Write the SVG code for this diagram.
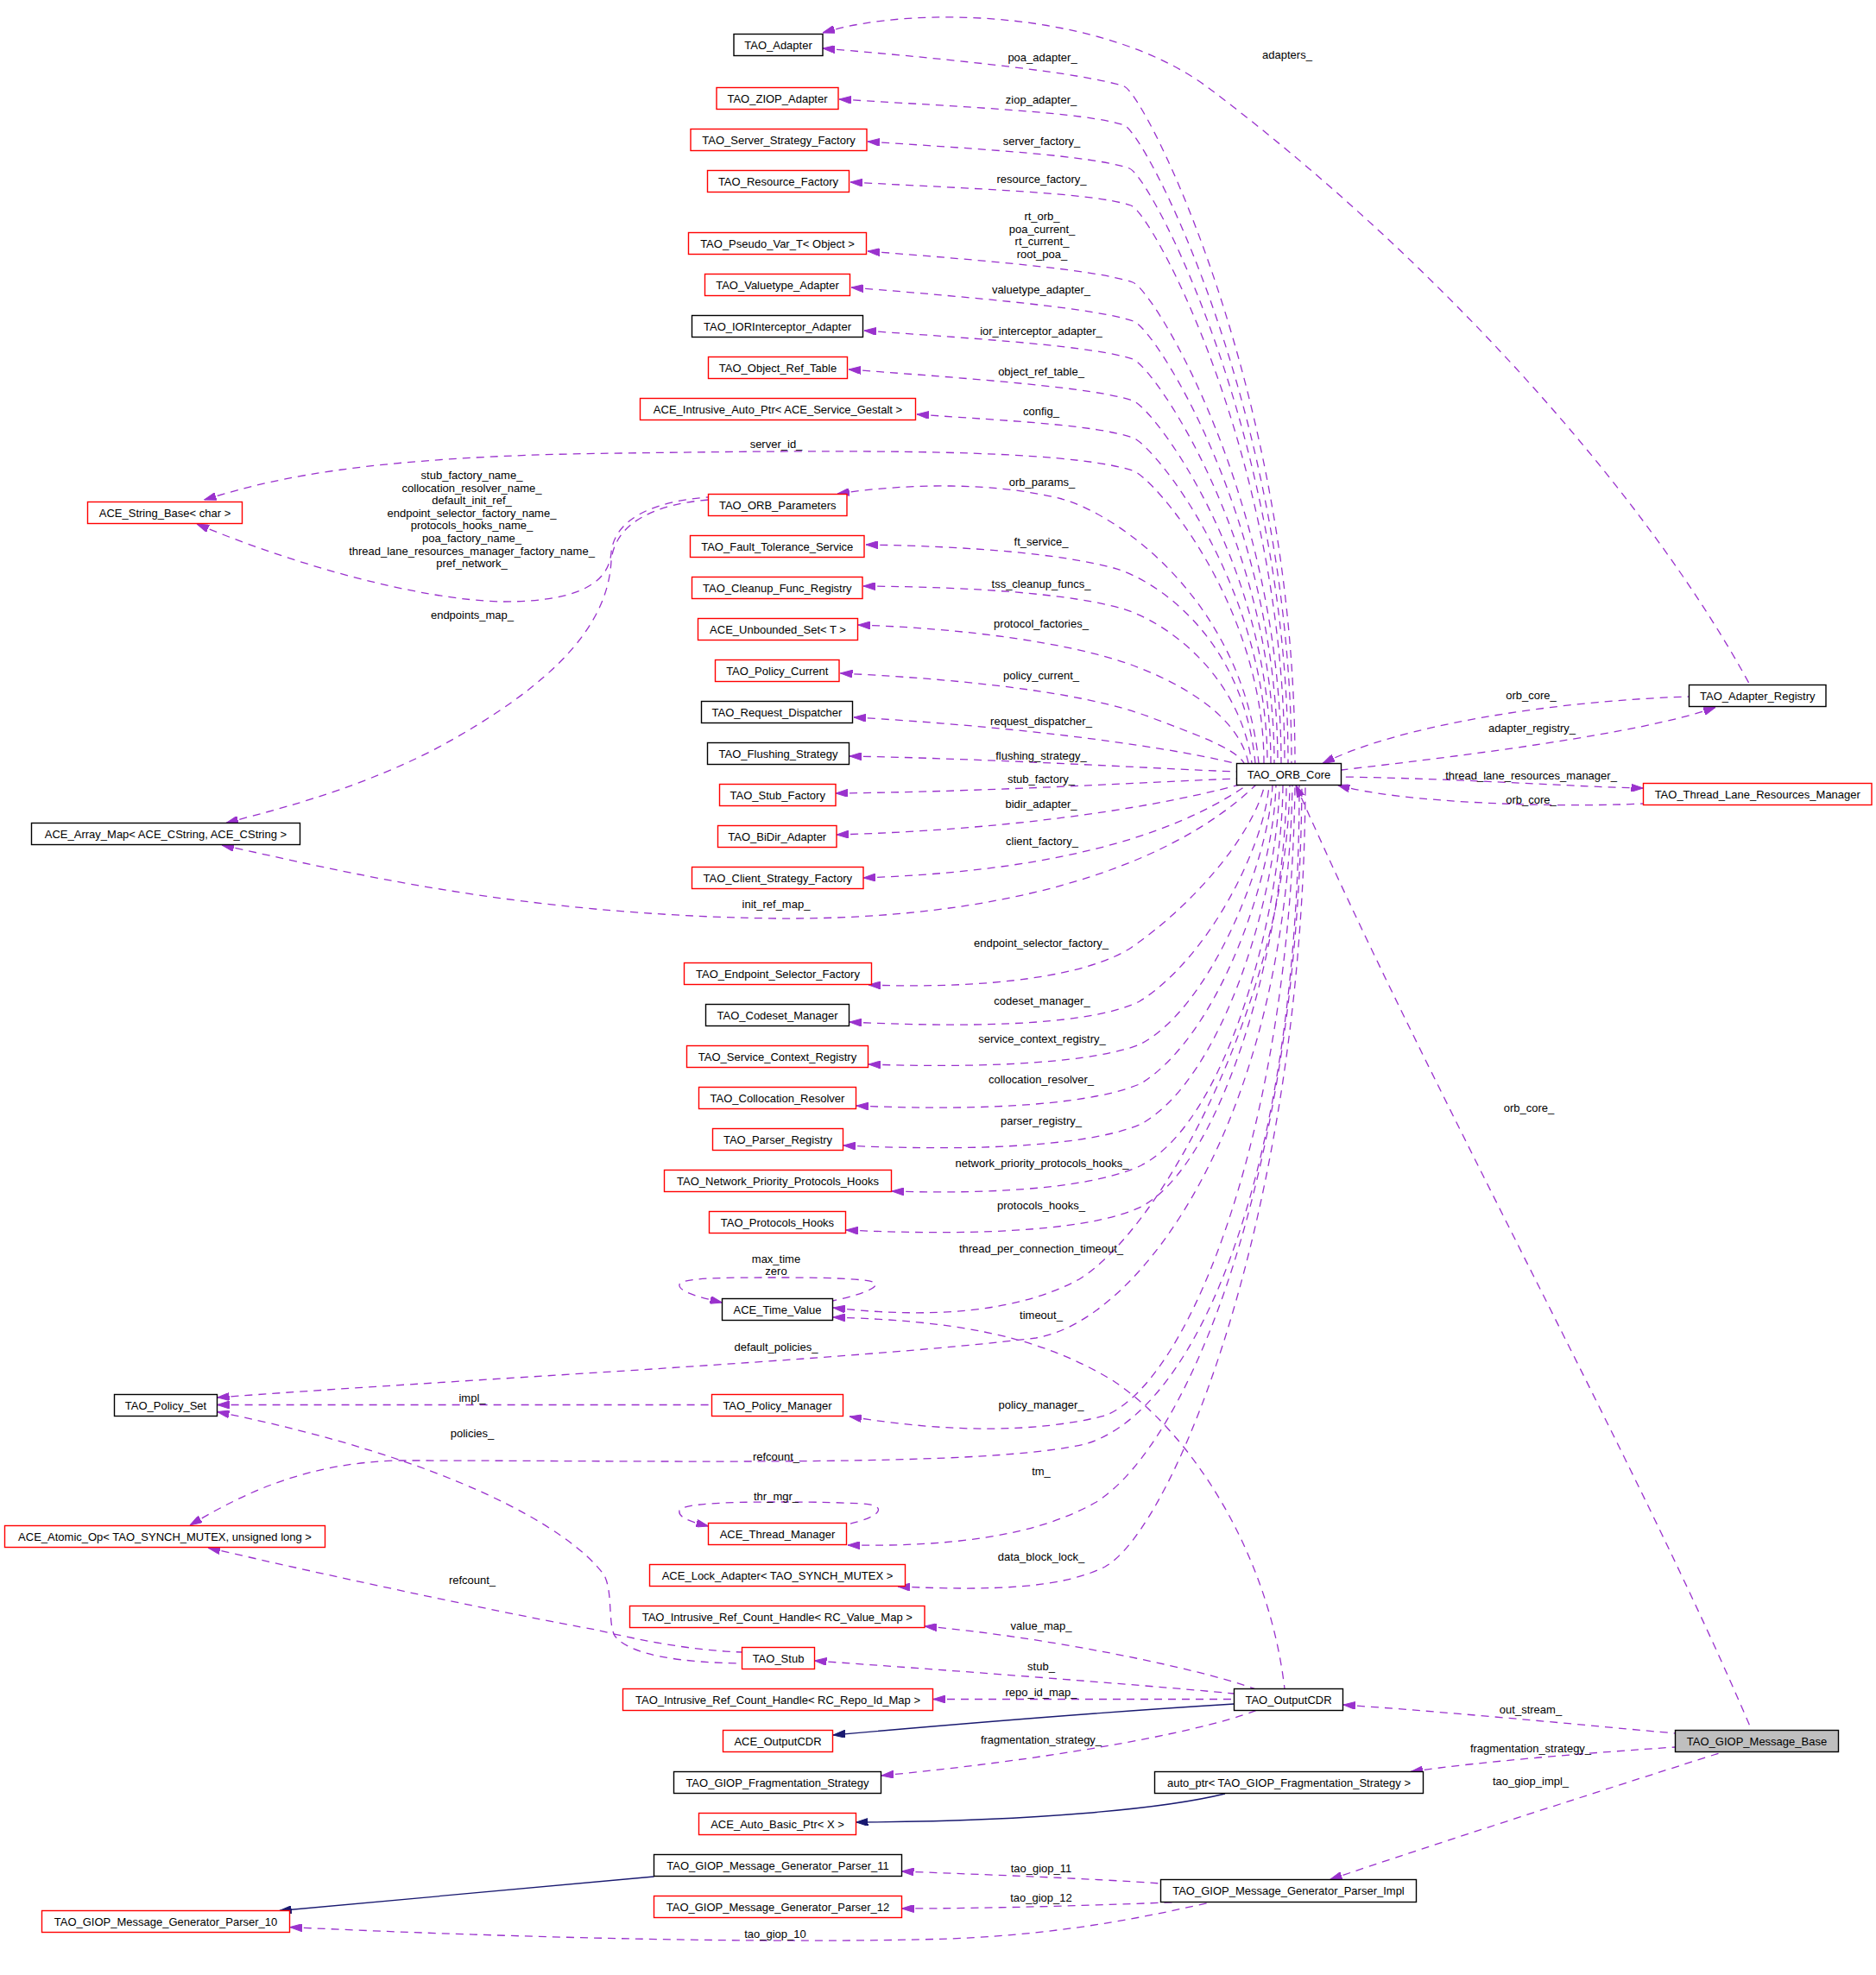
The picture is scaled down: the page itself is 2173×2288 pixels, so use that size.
<svg xmlns="http://www.w3.org/2000/svg" width="2173" height="2288" viewBox="0 0 2173 2288">
<defs>
<marker id="ap" markerUnits="userSpaceOnUse" markerWidth="14" markerHeight="9" refX="14" refY="4.5" orient="auto-start-reverse"><path d="M0,0 L14,4.5 L0,9 Z" fill="#9a32cd" stroke="#9a32cd" stroke-width="1"/></marker>
<marker id="ab" markerUnits="userSpaceOnUse" markerWidth="14" markerHeight="9" refX="14" refY="4.5" orient="auto-start-reverse"><path d="M0,0 L14,4.5 L0,9 Z" fill="#191970" stroke="#191970" stroke-width="1"/></marker>
<style>
text{font-family:"Liberation Sans",Arial,Helvetica,sans-serif;font-size:13px;fill:#000}
.n rect{fill:#fff;stroke:#000;stroke-width:1.4}
.n.r rect{stroke:#ff0000}
.n.g rect{fill:#bfbfbf}
.n text{text-anchor:middle}
.lb text{text-anchor:middle}
.e{fill:none;stroke:#9a32cd;stroke-width:1.3;stroke-dasharray:9,7;marker-start:url(#ap)}
.i{fill:none;stroke:#191970;stroke-width:1.3;marker-start:url(#ab)}
</style>
</defs>
<rect width="2173" height="2288" fill="#fff"/>
<g id="edges">
<path class="e" d="M953,38 C1060,5 1280,12 1400,102 C1650,290 1900,560 2027,793.5"/>
<path class="e" d="M953,56 C1110,69 1257,85 1302,100 C1326,108 1500,453 1500,884"/>
<path class="e" d="M972,115 C1120,124 1257,130 1302,145 C1326,153 1496,478 1496,884"/>
<path class="e" d="M1005,164 C1141,173 1263,180 1308,195 C1332,203 1492,505 1492,884"/>
<path class="e" d="M985,211 C1131,219 1265,223 1310,238 C1334,246 1488,529 1488,884"/>
<path class="e" d="M1005,291 C1143,302 1267,312 1312,327 C1336,335 1484,578 1484,884"/>
<path class="e" d="M986,333 C1133,345 1268,357 1313,372 C1337,380 1480,602 1480,884"/>
<path class="e" d="M1001,383 C1141,393 1267,401 1312,416 C1336,424 1476,627 1476,884"/>
<path class="e" d="M983,428 C1131,439 1267,449 1312,464 C1336,472 1472,653 1472,884"/>
<path class="e" d="M1062,480 C1174,488 1267,492 1312,507 C1336,515 1468,677 1468,884"/>
<path class="e" d="M236.5,579 C300,560 400,528 720,525 C1000,521 1230,520 1312,545 C1336,553 1464,700 1464,884"/>
<path class="e" d="M970,572 C1050,560 1150,558 1230,578 C1300,598 1440,700 1458,884"/>
<path class="e" d="M1003,631 C1130,633 1230,642 1290,658 C1340,672 1440,740 1454,884"/>
<path class="e" d="M1000,679 C1130,680 1240,688 1300,705 C1350,720 1435,780 1450,884"/>
<path class="e" d="M994,724 C1120,728 1240,745 1310,770 C1370,792 1435,830 1446,884"/>
<path class="e" d="M973.5,780 C1100,786 1250,800 1330,830 C1380,849 1430,866 1441,884"/>
<path class="e" d="M989,831 C1150,840 1330,860 1434,885"/>
<path class="e" d="M984,876 C1150,879 1330,890 1433,894"/>
<path class="e" d="M968,919 C1150,917 1330,906 1433,902"/>
<path class="e" d="M969,967 C1150,962 1320,940 1436,909"/>
<path class="e" d="M1000,1017 C1200,1010 1350,975 1445,909"/>
<path class="e" d="M257,979 C400,1010 600,1060 900,1064 C1150,1066 1350,1010 1455,909"/>
<path class="e" d="M1006,1141 C1150,1146 1260,1130 1310,1098 C1380,1050 1450,970 1465,909"/>
<path class="e" d="M984,1184 C1150,1192 1270,1185 1320,1160 C1400,1110 1465,980 1470,909"/>
<path class="e" d="M1006,1233 C1150,1238 1270,1230 1320,1210 C1400,1170 1470,1000 1474,909"/>
<path class="e" d="M992,1281 C1150,1288 1270,1278 1322,1255 C1410,1200 1475,1020 1478,909"/>
<path class="e" d="M977,1327 C1150,1335 1270,1325 1322,1302 C1415,1250 1480,1040 1482,909"/>
<path class="e" d="M1033,1380 C1160,1384 1270,1375 1322,1350 C1420,1300 1485,1060 1486,909"/>
<path class="e" d="M980,1425 C1150,1433 1270,1423 1322,1398 C1420,1345 1490,1080 1490,909"/>
<path class="e" d="M965,1515 C1080,1528 1180,1520 1250,1482 C1350,1420 1490,1150 1494,909"/>
<path class="e" d="M965,1526 C1100,1530 1200,1545 1290,1600 C1380,1660 1470,1800 1488,1956.5"/>
<path class="e" d="M836.5,1509 C810,1503 785,1496 787,1488 C790,1480 840,1480 899,1480 C930,1480 970,1480 1000,1483 C1030,1486 1010,1497 964.5,1507"/>
<path class="e" d="M251.6,1619 C500,1600 1000,1575 1200,1550 C1320,1530 1490,1300 1497,909"/>
<path class="e" d="M251.6,1627.5 L824.5,1627.5"/>
<path class="e" d="M251.6,1635.5 C520,1690 660,1770 700,1825 C710,1845 704,1880 712,1895 C730,1918 790,1926 859.5,1927"/>
<path class="e" d="M984,1641 C1100,1660 1200,1660 1280,1640 C1380,1600 1495,1300 1500,909"/>
<path class="e" d="M220,1767 C290,1725 360,1695 460,1692 C800,1692 1150,1700 1260,1672 C1390,1630 1505,1350 1505,909"/>
<path class="e" d="M241,1793 C400,1830 600,1872 690,1888 C740,1900 800,1912 859.5,1914"/>
<path class="e" d="M982,1790 C1100,1792 1200,1780 1270,1740 C1380,1670 1505,1350 1508,909"/>
<path class="e" d="M820.5,1768 C800,1763 785,1758 787,1750 C790,1742 840,1740 899,1740 C930,1740 960,1740 1000,1742 C1030,1744 1020,1758 980.5,1766"/>
<path class="e" d="M1040,1838 C1150,1843 1230,1840 1280,1815 C1360,1770 1510,1400 1512,909"/>
<path class="e" d="M1071,1884 C1200,1895 1380,1930 1455,1957"/>
<path class="e" d="M943.5,1924 C1100,1935 1300,1950 1429.5,1962"/>
<path class="e" d="M1081,1968.5 L1429.5,1968.5"/>
<path class="i" d="M965,2010 C1100,1998 1250,1985 1429.5,1974"/>
<path class="e" d="M1021,2057 C1200,2040 1380,2010 1455,1981.5"/>
<path class="i" d="M991.5,2111 C1200,2110 1350,2095 1419,2078"/>
<path class="e" d="M1044.5,2168 C1150,2172 1260,2176 1344.5,2182"/>
<path class="e" d="M1044.5,2211 C1150,2211 1280,2207 1363,2203.5"/>
<path class="e" d="M336,2232.6 C600,2245 900,2252 1100,2246 C1250,2240 1350,2215 1404,2203.5"/>
<path class="i" d="M323.7,2213.5 L757.5,2174"/>
<path class="e" d="M1556,1975 C1700,1985 1850,2000 1940.5,2008"/>
<path class="e" d="M1634,2052.5 C1720,2040 1850,2030 1940.5,2024"/>
<path class="e" d="M1540.5,2177.5 C1650,2140 1900,2060 1996,2029.5"/>
<path class="e" d="M1501,909.5 C1650,1250 1900,1700 2029,2004.5"/>
<path class="e" d="M1987,819.5 C1900,850 1700,875 1553.5,892"/>
<path class="e" d="M1532,884.5 C1620,840 1800,812 1956.5,807"/>
<path class="e" d="M1903.5,913 C1830,912 1700,902 1553.5,900"/>
<path class="e" d="M1549.5,909.5 C1620,930 1800,936 1903.5,931"/>
<path class="e" d="M228,607 C330,650 480,695 583,697 C660,697 705,680 708,640 C712,600 760,580 820.5,576"/>
<path class="e" d="M262,953.5 C310,940 400,920 500,870 C650,790 704,720 708,650 C712,605 760,584 820.5,579"/>
</g>
<g id="edge-labels" class="lb">
<text x="1491" y="68">adapters_</text>
<text x="1207.5" y="71.3">poa_adapter_</text>
<text x="1206" y="120">ziop_adapter_</text>
<text x="1206.5" y="167.5">server_factory_</text>
<text x="1206.5" y="212">resource_factory_</text>
<text x="1207" y="255">rt_orb_</text>
<text x="1207" y="269.6">poa_current_</text>
<text x="1207" y="284.2">rt_current_</text>
<text x="1207" y="298.8">root_poa_</text>
<text x="1206" y="340.2">valuetype_adapter_</text>
<text x="1206" y="388">ior_interceptor_adapter_</text>
<text x="1206" y="435">object_ref_table_</text>
<text x="1206" y="481.3">config_</text>
<text x="899" y="519">server_id_</text>
<text x="1207" y="563">orb_params_</text>
<text x="1206" y="632">ft_service_</text>
<text x="1206" y="681.3">tss_cleanup_funcs_</text>
<text x="1206" y="727.4">protocol_factories_</text>
<text x="1206" y="787.4">policy_current_</text>
<text x="1206" y="840.2">request_dispatcher_</text>
<text x="1206" y="880.2">flushing_strategy_</text>
<text x="1206" y="907">stub_factory_</text>
<text x="1206" y="936.3">bidir_adapter_</text>
<text x="1207" y="979">client_factory_</text>
<text x="899" y="1052">init_ref_map_</text>
<text x="1206" y="1097">endpoint_selector_factory_</text>
<text x="1207" y="1164">codeset_manager_</text>
<text x="1207" y="1208.4">service_context_registry_</text>
<text x="1206" y="1255.2">collocation_resolver_</text>
<text x="1206" y="1303">parser_registry_</text>
<text x="1207" y="1352.4">network_priority_protocols_hooks_</text>
<text x="1206" y="1401.3">protocols_hooks_</text>
<text x="1206" y="1451.3">thread_per_connection_timeout_</text>
<text x="899" y="1463">max_time</text>
<text x="899" y="1477.4">zero</text>
<text x="1206" y="1528">timeout_</text>
<text x="899" y="1565">default_policies_</text>
<text x="1206" y="1632">policy_manager_</text>
<text x="899" y="1692">refcount_</text>
<text x="1206" y="1708.5">tm_</text>
<text x="899" y="1737.5">thr_mgr_</text>
<text x="1206" y="1808">data_block_lock_</text>
<text x="1206" y="1888">value_map_</text>
<text x="1206" y="1935">stub_</text>
<text x="1206" y="1965.4">repo_id_map_</text>
<text x="1206" y="2019.5">fragmentation_strategy_</text>
<text x="1206" y="2169">tao_giop_11</text>
<text x="1206" y="2203">tao_giop_12</text>
<text x="898" y="2244.5">tao_giop_10</text>
<text x="546.5" y="555">stub_factory_name_</text>
<text x="546.5" y="569.6">collocation_resolver_name_</text>
<text x="546.5" y="584.2">default_init_ref_</text>
<text x="546.5" y="598.8">endpoint_selector_factory_name_</text>
<text x="546.5" y="613.4">protocols_hooks_name_</text>
<text x="546.5" y="628">poa_factory_name_</text>
<text x="546.5" y="642.6">thread_lane_resources_manager_factory_name_</text>
<text x="546.5" y="657.2">pref_network_</text>
<text x="547" y="717.4">endpoints_map_</text>
<text x="547" y="1623.8">impl_</text>
<text x="547" y="1665">policies_</text>
<text x="547" y="1835">refcount_</text>
<text x="1773.5" y="809.5">orb_core_</text>
<text x="1774.5" y="847.8">adapter_registry_</text>
<text x="1773.5" y="902.8">thread_lane_resources_manager_</text>
<text x="1773.5" y="931.2">orb_core_</text>
<text x="1771" y="1287.5">orb_core_</text>
<text x="1773" y="1984.5">out_stream_</text>
<text x="1773" y="2029.5">fragmentation_strategy_</text>
<text x="1773" y="2067.8">tao_giop_impl_</text>
</g>
<g id="n1" class="n"><rect x="850" y="39.5" width="103" height="25"/><text x="901.5" y="56.5">TAO_Adapter</text></g>
<g id="n2" class="n r"><rect x="830" y="101.5" width="141" height="25"/><text x="900.5" y="118.5">TAO_ZIOP_Adapter</text></g>
<g id="n3" class="n r"><rect x="800" y="149.5" width="204" height="25"/><text x="902" y="166.5">TAO_Server_Strategy_Factory</text></g>
<g id="n4" class="n r"><rect x="819.5" y="197.5" width="164" height="25"/><text x="901.5" y="214.5">TAO_Resource_Factory</text></g>
<g id="n5" class="n r"><rect x="797.5" y="269.5" width="206" height="25"/><text x="900.5" y="286.5">TAO_Pseudo_Var_T&lt; Object &gt;</text></g>
<g id="n6" class="n r"><rect x="816.5" y="317.5" width="168" height="25"/><text x="900.5" y="334.5">TAO_Valuetype_Adapter</text></g>
<g id="n7" class="n"><rect x="801.5" y="365.5" width="198" height="25"/><text x="900.5" y="382.5">TAO_IORInterceptor_Adapter</text></g>
<g id="n8" class="n r"><rect x="820.5" y="413.5" width="161" height="25"/><text x="901" y="430.5">TAO_Object_Ref_Table</text></g>
<g id="n9" class="n r"><rect x="741.5" y="461.5" width="319" height="25"/><text x="901" y="478.5">ACE_Intrusive_Auto_Ptr&lt; ACE_Service_Gestalt &gt;</text></g>
<g id="n10" class="n r"><rect x="820.5" y="572.5" width="160.5" height="25"/><text x="900.75" y="589.5">TAO_ORB_Parameters</text></g>
<g id="n11" class="n r"><rect x="799.5" y="620.5" width="201.5" height="25"/><text x="900.25" y="637.5">TAO_Fault_Tolerance_Service</text></g>
<g id="n12" class="n r"><rect x="801.5" y="668.5" width="197.5" height="25"/><text x="900.25" y="685.5">TAO_Cleanup_Func_Registry</text></g>
<g id="n13" class="n r"><rect x="808.5" y="716.5" width="185" height="25"/><text x="901" y="733.5">ACE_Unbounded_Set&lt; T &gt;</text></g>
<g id="n14" class="n r"><rect x="828.5" y="764.5" width="143.5" height="25"/><text x="900.25" y="781.5">TAO_Policy_Current</text></g>
<g id="n15" class="n"><rect x="812.5" y="812.5" width="175" height="25"/><text x="900" y="829.5">TAO_Request_Dispatcher</text></g>
<g id="n16" class="n"><rect x="819.5" y="860.5" width="164" height="25"/><text x="901.5" y="877.5">TAO_Flushing_Strategy</text></g>
<g id="n17" class="n r"><rect x="833.5" y="908.5" width="134.5" height="25"/><text x="900.75" y="925.5">TAO_Stub_Factory</text></g>
<g id="n18" class="n r"><rect x="831.5" y="956.5" width="137.5" height="25"/><text x="900.25" y="973.5">TAO_BiDir_Adapter</text></g>
<g id="n19" class="n r"><rect x="801.5" y="1004.5" width="198.5" height="25"/><text x="900.75" y="1021.5">TAO_Client_Strategy_Factory</text></g>
<g id="n20" class="n r"><rect x="792.5" y="1115.5" width="217" height="25"/><text x="901" y="1132.5">TAO_Endpoint_Selector_Factory</text></g>
<g id="n21" class="n"><rect x="817.5" y="1163.5" width="166" height="25"/><text x="900.5" y="1180.5">TAO_Codeset_Manager</text></g>
<g id="n22" class="n r"><rect x="795.5" y="1211.5" width="210" height="25"/><text x="900.5" y="1228.5">TAO_Service_Context_Registry</text></g>
<g id="n23" class="n r"><rect x="809.5" y="1259.5" width="182" height="25"/><text x="900.5" y="1276.5">TAO_Collocation_Resolver</text></g>
<g id="n24" class="n r"><rect x="825.5" y="1307.5" width="151" height="25"/><text x="901" y="1324.5">TAO_Parser_Registry</text></g>
<g id="n25" class="n r"><rect x="769.5" y="1355.5" width="263" height="25"/><text x="901" y="1372.5">TAO_Network_Priority_Protocols_Hooks</text></g>
<g id="n26" class="n r"><rect x="821.5" y="1403.5" width="158" height="25"/><text x="900.5" y="1420.5">TAO_Protocols_Hooks</text></g>
<g id="n27" class="n"><rect x="836.5" y="1504.5" width="128" height="25"/><text x="900.5" y="1521.5">ACE_Time_Value</text></g>
<g id="n28" class="n r"><rect x="824.5" y="1615.5" width="152" height="25"/><text x="900.5" y="1632.5">TAO_Policy_Manager</text></g>
<g id="n29" class="n r"><rect x="820.5" y="1764.5" width="160" height="25"/><text x="900.5" y="1781.5">ACE_Thread_Manager</text></g>
<g id="n30" class="n r"><rect x="752.5" y="1812.5" width="296" height="25"/><text x="900.5" y="1829.5">ACE_Lock_Adapter&lt; TAO_SYNCH_MUTEX &gt;</text></g>
<g id="n31" class="n r"><rect x="729.5" y="1860.5" width="341.5" height="25"/><text x="900.25" y="1877.5">TAO_Intrusive_Ref_Count_Handle&lt; RC_Value_Map &gt;</text></g>
<g id="n32" class="n r"><rect x="859.5" y="1908.5" width="84" height="25"/><text x="901.5" y="1925.5">TAO_Stub</text></g>
<g id="n33" class="n r"><rect x="721.5" y="1956.5" width="359" height="25"/><text x="901" y="1973.5">TAO_Intrusive_Ref_Count_Handle&lt; RC_Repo_Id_Map &gt;</text></g>
<g id="n34" class="n r"><rect x="837.5" y="2004.5" width="127" height="25"/><text x="901" y="2021.5">ACE_OutputCDR</text></g>
<g id="n35" class="n"><rect x="780.5" y="2052.5" width="240" height="25"/><text x="900.5" y="2069.5">TAO_GIOP_Fragmentation_Strategy</text></g>
<g id="n36" class="n r"><rect x="809.5" y="2100.5" width="182" height="25"/><text x="900.5" y="2117.5">ACE_Auto_Basic_Ptr&lt; X &gt;</text></g>
<g id="n37" class="n"><rect x="757.5" y="2148.5" width="287" height="25"/><text x="901" y="2165.5">TAO_GIOP_Message_Generator_Parser_11</text></g>
<g id="n38" class="n r"><rect x="757.5" y="2196.5" width="287" height="25"/><text x="901" y="2213.5">TAO_GIOP_Message_Generator_Parser_12</text></g>
<g id="n39" class="n r"><rect x="101.5" y="581.5" width="179" height="25"/><text x="191" y="598.5">ACE_String_Base&lt; char &gt;</text></g>
<g id="n40" class="n"><rect x="36.5" y="953.5" width="311" height="25"/><text x="192" y="970.5">ACE_Array_Map&lt; ACE_CString, ACE_CString &gt;</text></g>
<g id="n41" class="n"><rect x="132.5" y="1615.5" width="119" height="25"/><text x="192" y="1632.5">TAO_Policy_Set</text></g>
<g id="n42" class="n r"><rect x="5.5" y="1767.5" width="371" height="25"/><text x="191" y="1784.5">ACE_Atomic_Op&lt; TAO_SYNCH_MUTEX, unsigned long &gt;</text></g>
<g id="n43" class="n r"><rect x="48.5" y="2213.5" width="287" height="25"/><text x="192" y="2230.5">TAO_GIOP_Message_Generator_Parser_10</text></g>
<g id="n44" class="n"><rect x="1432.5" y="884.5" width="121" height="25"/><text x="1493" y="901.5">TAO_ORB_Core</text></g>
<g id="n45" class="n"><rect x="1956.5" y="793.5" width="158.5" height="25"/><text x="2035.75" y="810.5">TAO_Adapter_Registry</text></g>
<g id="n46" class="n r"><rect x="1903.5" y="907.5" width="264.5" height="25"/><text x="2035.75" y="924.5">TAO_Thread_Lane_Resources_Manager</text></g>
<g id="n47" class="n"><rect x="1429.5" y="1956.5" width="126" height="25"/><text x="1492.5" y="1973.5">TAO_OutputCDR</text></g>
<g id="n48" class="n g"><rect x="1940.5" y="2004.5" width="189" height="25"/><text x="2035" y="2021.5">TAO_GIOP_Message_Base</text></g>
<g id="n49" class="n"><rect x="1337.5" y="2052.5" width="311" height="25"/><text x="1493" y="2069.5">auto_ptr&lt; TAO_GIOP_Fragmentation_Strategy &gt;</text></g>
<g id="n50" class="n"><rect x="1344.5" y="2177.5" width="296" height="26"/><text x="1492.5" y="2195">TAO_GIOP_Message_Generator_Parser_Impl</text></g>
</svg>
